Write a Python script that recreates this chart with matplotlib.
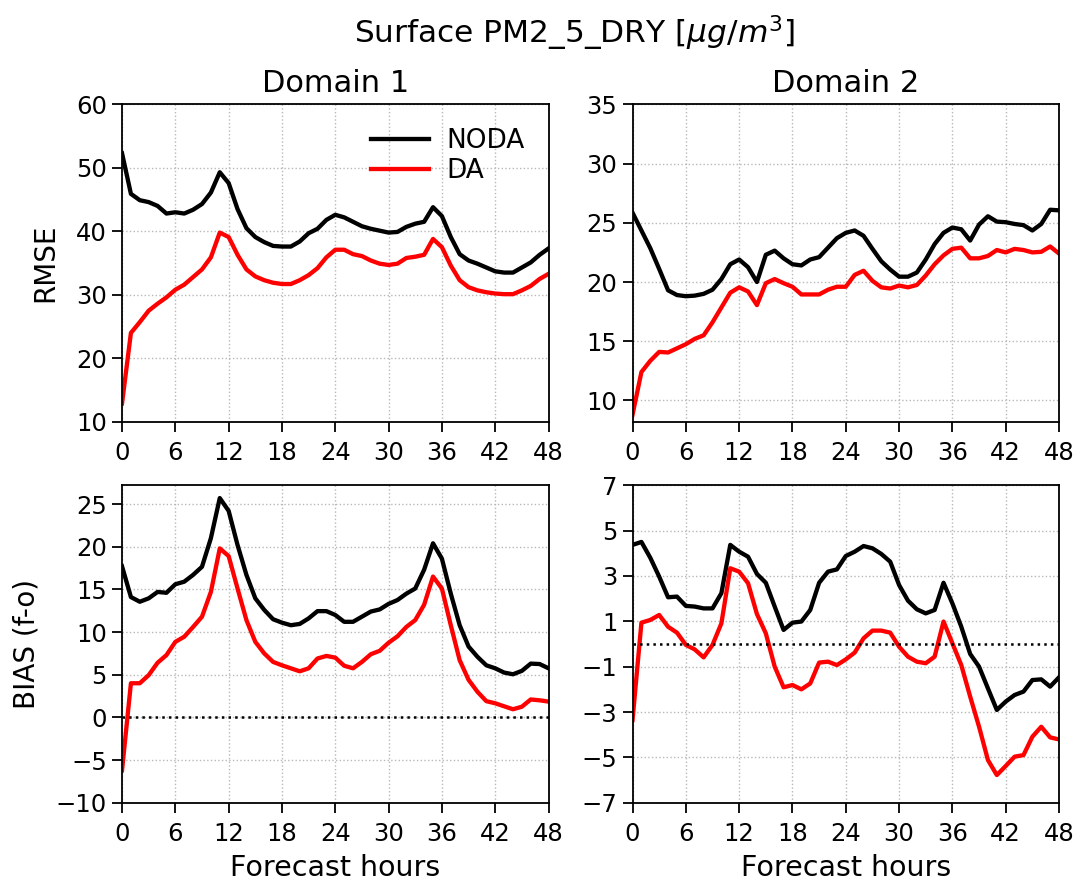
import matplotlib
matplotlib.use('Agg')
import matplotlib.pyplot as plt
import numpy as np

# Forecast hours 0..48
hours = np.arange(49)

# Domain 1 RMSE
rmse1_noda = [52.3, 45.9, 44.9, 44.6, 44.0, 42.8, 43.0, 42.8, 43.4, 44.3,
              46.1, 49.3, 47.6, 43.5, 40.5, 39.1, 38.3, 37.7, 37.6, 37.6,
              38.4, 39.7, 40.4, 41.8, 42.6, 42.2, 41.5, 40.8, 40.4, 40.1,
              39.8, 39.9, 40.7, 41.2, 41.5, 43.8, 42.4, 39.1, 36.4, 35.4,
              34.9, 34.3, 33.7, 33.5, 33.5, 34.3, 35.1, 36.3, 37.3]
rmse1_da = [12.9, 24.0, 25.7, 27.5, 28.6, 29.6, 30.8, 31.6, 32.8, 34.0,
            35.9, 39.8, 39.1, 36.3, 34.0, 32.9, 32.3, 31.9, 31.7, 31.7,
            32.3, 33.1, 34.2, 35.9, 37.1, 37.1, 36.4, 36.1, 35.4, 34.9,
            34.7, 34.9, 35.8, 36.0, 36.3, 38.8, 37.5, 34.6, 32.3, 31.2,
            30.7, 30.4, 30.2, 30.1, 30.1, 30.7, 31.4, 32.5, 33.3]

# Domain 2 RMSE
rmse2_noda = [25.85, 24.35, 22.85, 21.1, 19.3, 18.9, 18.8, 18.85, 19.0, 19.35,
              20.25, 21.5, 21.9, 21.25, 20.0, 22.3, 22.65, 22.0, 21.5, 21.4,
              21.9, 22.1, 22.9, 23.7, 24.15, 24.35, 23.9, 22.8, 21.75, 21.05,
              20.45, 20.45, 20.8, 21.9, 23.2, 24.15, 24.6, 24.45, 23.5, 24.85,
              25.55, 25.1, 25.05, 24.9, 24.8, 24.35, 24.9, 26.1, 26.05]
rmse2_da = [8.8, 12.4, 13.35, 14.1, 14.05, 14.4, 14.75, 15.2, 15.5, 16.6,
            17.85, 19.1, 19.55, 19.2, 18.05, 19.9, 20.25, 19.9, 19.6, 18.95,
            18.95, 18.95, 19.35, 19.6, 19.6, 20.6, 20.95, 20.1, 19.55, 19.45,
            19.7, 19.55, 19.75, 20.55, 21.5, 22.25, 22.8, 22.9, 22.0, 22.0,
            22.2, 22.7, 22.5, 22.8, 22.7, 22.5, 22.55, 23.0, 22.4]

# Domain 1 BIAS
bias1_noda = [17.7, 14.1, 13.55, 13.95, 14.7, 14.6, 15.6, 15.9, 16.7, 17.65,
              21.0, 25.7, 24.2, 20.2, 16.7, 13.95, 12.6, 11.5, 11.1, 10.8,
              10.95, 11.6, 12.45, 12.45, 12.0, 11.2, 11.2, 11.8, 12.4, 12.65,
              13.3, 13.75, 14.5, 15.1, 17.3, 20.4, 18.6, 14.5, 10.8, 8.3,
              7.1, 6.1, 5.75, 5.25, 5.05, 5.45, 6.3, 6.25, 5.75]
bias1_da = [-6.2, 4.0, 4.0, 4.95, 6.4, 7.3, 8.85, 9.45, 10.6, 11.8,
            14.7, 19.8, 18.9, 15.1, 11.4, 8.85, 7.5, 6.5, 6.1, 5.75,
            5.4, 5.75, 6.9, 7.2, 7.0, 6.05, 5.75, 6.5, 7.4, 7.8,
            8.75, 9.5, 10.6, 11.4, 13.2, 16.5, 15.1, 10.8, 6.7, 4.4,
            3.0, 1.9, 1.65, 1.3, 0.95, 1.25, 2.1, 2.0, 1.85]

# Domain 2 BIAS
bias2_noda = [4.37, 4.5, 3.8, 2.97, 2.06, 2.09, 1.68, 1.65, 1.57, 1.57,
              2.24, 4.37, 4.07, 3.85, 3.09, 2.7, 1.65, 0.62, 0.94, 0.99,
              1.5, 2.7, 3.19, 3.29, 3.88, 4.07, 4.32, 4.22, 3.97, 3.63,
              2.6, 1.91, 1.53, 1.35, 1.5, 2.7, 1.79, 0.76, -0.44, -1.0,
              -1.96, -2.91, -2.54, -2.25, -2.1, -1.59, -1.56, -1.88, -1.47]
bias2_da = [-3.35, 0.94, 1.06, 1.28, 0.76, 0.5, -0.04, -0.24, -0.59, -0.04,
            0.91, 3.34, 3.19, 2.68, 1.32, 0.47, -1.0, -1.91, -1.81, -2.0,
            -1.74, -0.82, -0.78, -0.93, -0.68, -0.38, 0.25, 0.59, 0.59, 0.5,
            -0.12, -0.56, -0.78, -0.85, -0.56, 0.99, 0.03, -0.93, -2.32, -3.65,
            -5.12, -5.78, -5.38, -4.97, -4.9, -4.09, -3.65, -4.12, -4.21]

xticks = np.arange(0, 49, 6)

fig, axes = plt.subplots(2, 2, figsize=(10.78, 8.82), dpi=100)
fig.subplots_adjust(left=0.1132, right=0.9824, bottom=0.0899, top=0.8817,
                    wspace=0.197, hspace=0.2)

panels = [
    (axes[0, 0], rmse1_noda, rmse1_da, (10, 60), np.arange(10, 61, 10)),
    (axes[0, 1], rmse2_noda, rmse2_da, (8.2, 35), np.arange(10, 36, 5)),
    (axes[1, 0], bias1_noda, bias1_da, (-10, 27.2), np.arange(-10, 26, 5)),
    (axes[1, 1], bias2_noda, bias2_da, (-7, 7), np.arange(-7, 8, 2)),
]

for ax, noda, da, ylim, yticks in panels:
    ax.plot(hours, noda, color='black', lw=3.1, label='NODA')
    ax.plot(hours, da, color='red', lw=3.1, label='DA')
    ax.set_xlim(0, 48)
    ax.set_ylim(*ylim)
    ax.set_xticks(xticks)
    ax.set_yticks(yticks)
    ax.grid(True, linestyle=':', color='#b8b8b8', lw=1)
    ax.tick_params(labelsize=17.5, width=1.3, length=7, pad=4)
    ax.tick_params(axis='x', pad=7)
    for sp in ax.spines.values():
        sp.set_linewidth(1.3)

# zero lines on the bias panels
for ax in axes[1]:
    ax.axhline(0, color='black', ls=':', lw=1.8)
    ax.set_xlabel('Forecast hours', fontsize=20.5, labelpad=6)

axes[0, 0].set_title('Domain 1', fontsize=22, pad=9)
axes[0, 1].set_title('Domain 2', fontsize=22, pad=9)
axes[0, 0].set_ylabel('RMSE', fontsize=20, labelpad=12)
axes[1, 0].set_ylabel('BIAS (f-o)', fontsize=20, labelpad=11)

axes[0, 0].legend(loc='upper right', frameon=False, fontsize=19,
                  handlelength=2.2, handletextpad=0.65,
                  borderaxespad=0.5, labelspacing=0.15)

fig.suptitle(r'Surface PM2_5_DRY [$\mu g/m^3$]', fontsize=22.5,
             x=0.533, y=0.985)

plt.savefig('out.png', dpi=100)
